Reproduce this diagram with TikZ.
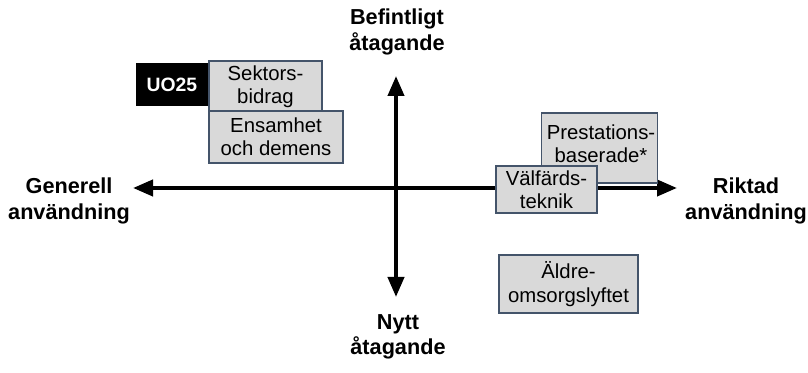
\documentclass[tikz,border=0pt]{standalone}
\usepackage{fontspec}
\setmainfont{Liberation Sans}
\usetikzlibrary{arrows.meta}
\definecolor{boxfill}{HTML}{D9D9D9}
\definecolor{boxline}{HTML}{44546A}
\begin{document}
\begin{tikzpicture}[x=0.75pt,y=-0.75pt,
  axis/.style={line width=3pt,-{Triangle[length=15pt,width=12pt]}},
  axislabel/.style={font=\fontsize{16.25}{19}\selectfont\bfseries,align=center,inner sep=0pt},
  boxtext/.style={font=\fontsize{15.25}{17.5}\selectfont,align=center,inner sep=0pt},
  graybox/.style={draw=boxline,line width=1.1pt,fill=boxfill,inner sep=0pt,boxtext}]
\useasboundingbox (0,0) rectangle (808,373);
% axes
\coordinate (c) at (396,188);
\coordinate (l) at (133,188);
\coordinate (r) at (677,188);
\coordinate (t) at (396,76);
\coordinate (b) at (396,297);
\draw[axis] (c) -- (l);
\draw[axis] (c) -- (r);
\draw[axis] (c) -- (t);
\draw[axis] (c) -- (b);
% axis labels
\node[axislabel] (top) at (397,32) {Befintligt\\åtagande};
\node[axislabel] (bottom) at (398,337) {Nytt\\åtagande};
\node[axislabel] (left) at (69,201) {Generell\\användning};
\node[axislabel] (right) at (746,201) {Riktad\\användning};
% boxes
\node[fill=black,inner sep=0pt,font=\fontsize{14.5}{17}\selectfont\bfseries,text=white,
  minimum width=54pt,minimum height=32.25pt] (uo) at (172,84.5) {UO25};
\node[graybox,minimum width=84.75pt,minimum height=38.25pt] (sek) at (265.5,86.5) {Sektors-\\bidrag};
\node[graybox,minimum width=100.5pt,minimum height=39pt] (ens) at (276,137) {Ensamhet\\och demens};
\node[graybox,minimum width=87pt,minimum height=52.5pt] (pre) at (599.5,148) {};
\node[boxtext] (pretext) at (601,144) {Prestations-\\baserade*};
\node[graybox,minimum width=75.75pt,minimum height=35.25pt] (val) at (546.5,189.5) {Välfärds-\\teknik};
\node[graybox,minimum width=104.25pt,minimum height=43.5pt] (ald) at (568.5,284) {Äldre-\\omsorgslyftet};
\end{tikzpicture}
\end{document}
